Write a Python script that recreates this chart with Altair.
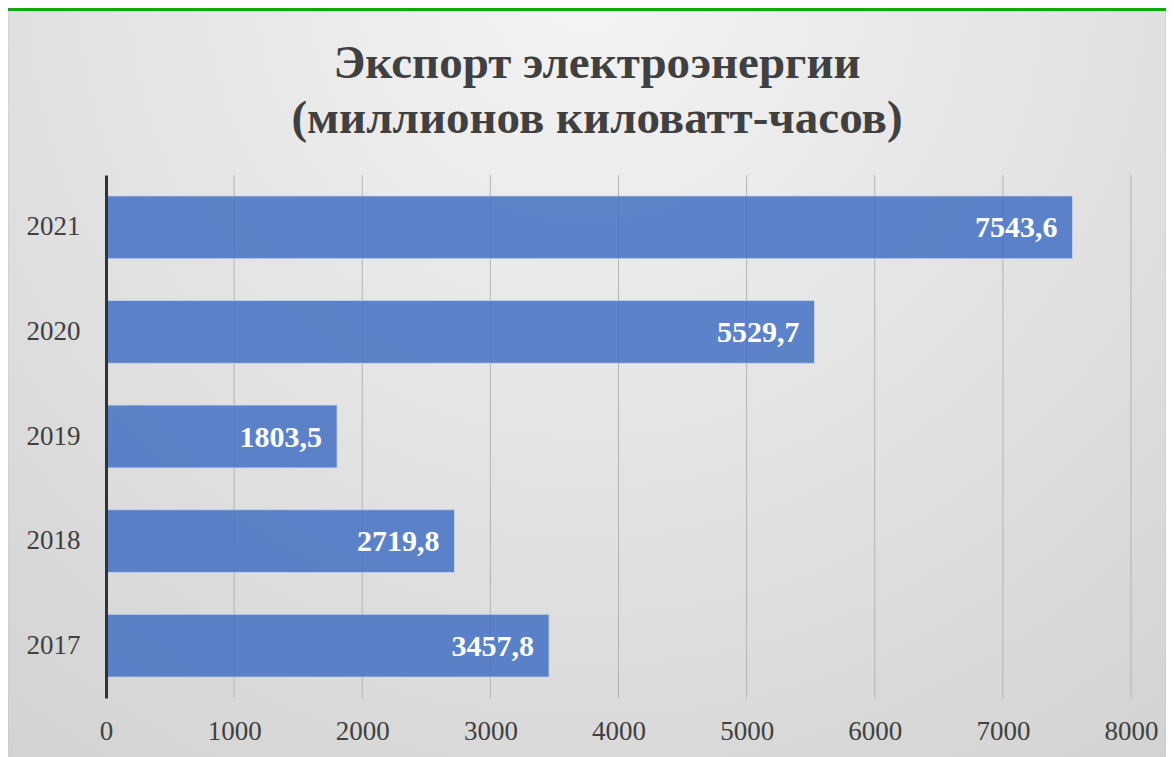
import altair as alt
import pandas as pd

years = ["2017", "2018", "2019", "2020", "2021"]
values = [3457.8, 2719.8, 1803.5, 5529.7, 7543.6]
x_ticks = [0, 1000, 2000, 3000, 4000, 5000, 6000, 7000, 8000]
title_lines = ["Экспорт электроэнергии", "(миллионов киловатт-часов)"]

df = pd.DataFrame({
    "year": years,
    "value": values,
    "label": [f"{v:.1f}".replace(".", ",") for v in values],
})
grid_df = pd.DataFrame({"tick": x_ticks[1:]})
one = pd.DataFrame({"k": [0]})

W, H = 1025, 523
PL, PT, PR, PB = 98, 167, 35, 60
FONT = "Liberation Serif"

base = alt.Chart(df)
single = alt.Chart(one)

bg = single.mark_rect(
    fill=alt.Gradient(
        gradient="radial",
        stops=[alt.GradientStop(color="#f4f4f4", offset=0),
               alt.GradientStop(color="#d2d2d2", offset=1)],
        x1=0.5, y1=0.15, r1=0, x2=0.5, y2=0.15, r2=0.85,
    ),
    stroke="#c8c8c8", strokeWidth=1,
).encode(
    x=alt.value(-PL), x2=alt.value(W + PR), y=alt.value(-PT + 3), y2=alt.value(H + PB)
)

green = single.mark_rect(fill="#13a813").encode(
    x=alt.value(-PL - 8), x2=alt.value(W + PR), y=alt.value(-PT), y2=alt.value(-PT + 3)
)

xscale = alt.Scale(domain=[0, 8000], nice=False)

grid = alt.Chart(grid_df).mark_rule(color="#b4b4b4", strokeWidth=1).encode(
    x=alt.X("tick:Q", scale=xscale), y=alt.value(0), y2=alt.value(H)
)

x_enc = alt.X(
    "value:Q",
    scale=xscale,
    axis=alt.Axis(values=x_ticks, title=None, grid=False, domain=False,
                  ticks=False, labelFont=FONT, labelFontSize=27,
                  labelColor="#404040", labelPadding=20, format="d",
                  labelFlush=False, labelOverlap=False, zindex=1),
)
y_enc = alt.Y(
    "year:N", sort="descending",
    scale=alt.Scale(paddingInner=0.4, paddingOuter=0.2),
    axis=alt.Axis(title=None, domain=True, domainColor="#333333", domainWidth=3,
                  ticks=False, labelFont=FONT, labelFontSize=27,
                  labelColor="#404040", labelPadding=26, zindex=1),
)

bars = base.mark_bar(color="#4472c4", opacity=0.85, stroke="#c6d4f0",
                     strokeWidth=1, strokeOpacity=0.8).encode(x=x_enc, y=y_enc)

labels = base.mark_text(align="right", baseline="middle", dx=-15, dy=1,
                        font=FONT, fontSize=30, fontWeight="bold",
                        color="white").encode(
    x=alt.X("value:Q"), y=alt.Y("year:N", sort="descending"), text="label:N")

t1 = single.mark_text(font=FONT, fontSize=47, fontWeight="bold", color="#404040",
                      align="center", baseline="middle").encode(
    x=alt.value(491), y=alt.value(-111), text=alt.value(title_lines[0]))
t2 = single.mark_text(font=FONT, fontSize=47, fontWeight="bold", color="#404040",
                      align="center", baseline="middle").encode(
    x=alt.value(491), y=alt.value(-56), text=alt.value(title_lines[1]))

chart = alt.layer(bg, green, grid, bars, labels, t1, t2).properties(
    width=W, height=H,
    autosize=alt.AutoSizeParams(type="none"),
    padding={"left": PL, "top": PT, "right": PR, "bottom": PB},
).configure(background="white").configure_view(stroke=None)

chart.save("out.html", embed_options={"renderer": "svg", "actions": False})
